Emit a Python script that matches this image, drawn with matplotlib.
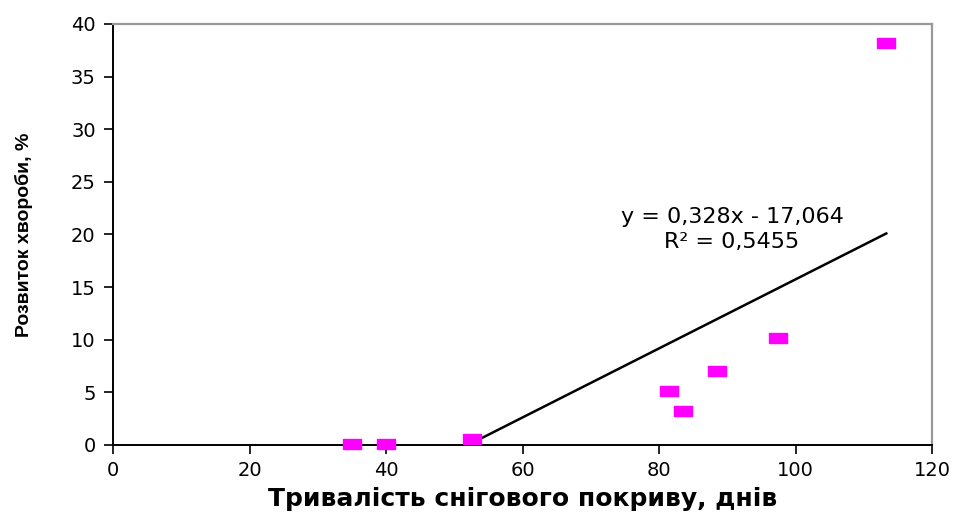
import matplotlib
matplotlib.use("Agg")
from matplotlib import pyplot as plt
import numpy as np

# snow cover duration (days) vs disease development (%)
snow_days = [35, 40, 52.6, 81.5, 83.5, 88.5, 97.5, 113.3]
disease = [0.1, 0.1, 0.6, 5.1, 3.2, 7.0, 10.2, 38.2]

# trendline as printed on the chart
slope = 0.328
intercept = -17.064
r2_text = "0,5455"

x_ticks = [0, 20, 40, 60, 80, 100, 120]
y_ticks = [0, 5, 10, 15, 20, 25, 30, 35, 40]

plt.rcParams['font.family'] = ['DejaVu Sans']

fig = plt.figure(figsize=(9.56, 5.16), dpi=100)
ax = fig.add_axes([0.1182, 0.1376, 0.8567, 0.8159])

x_fit = np.array([min(snow_days), max(snow_days)])
ax.plot(x_fit, slope * x_fit + intercept, color='black', lw=1.8, zorder=2)

rect = [(-1, -0.6), (1, -0.6), (1, 0.6), (-1, 0.6), (-1, -0.6)]
ax.plot(snow_days, disease, linestyle='none', marker=rect, ms=13,
        color='#ff00ff', mec='#ff00ff', clip_on=False, zorder=4)

ax.text(90.7, 20.5, "y = 0,328x - 17,064\nR² = " + r2_text,
        ha='center', va='center', fontsize=16, linespacing=1.3)

ax.set_xlim(0, 120)
ax.set_ylim(0, 40)
ax.set_xticks(x_ticks)
ax.set_yticks(y_ticks)
ax.tick_params(axis='both', direction='out', length=6.5, width=1.2,
               labelsize=14)
ax.tick_params(axis='x', pad=5)
ax.tick_params(axis='y', pad=6)

for side in ['left', 'bottom']:
    ax.spines[side].set_color('black')
    ax.spines[side].set_linewidth(1.4)
for side in ['top', 'right']:
    ax.spines[side].set_color('#999999')
    ax.spines[side].set_linewidth(1.6)

ax.set_xlabel("Тривалість снігового покриву, днів", fontsize=18,
              fontweight='bold')
ax.xaxis.set_label_coords(0.5, -0.1)
ax.set_ylabel("Розвиток хвороби, %", fontsize=14, fontweight='bold',
              family=['Liberation Sans'])
ax.yaxis.set_label_coords(-0.098, 0.5)

fig.savefig("out.png", dpi=100)
